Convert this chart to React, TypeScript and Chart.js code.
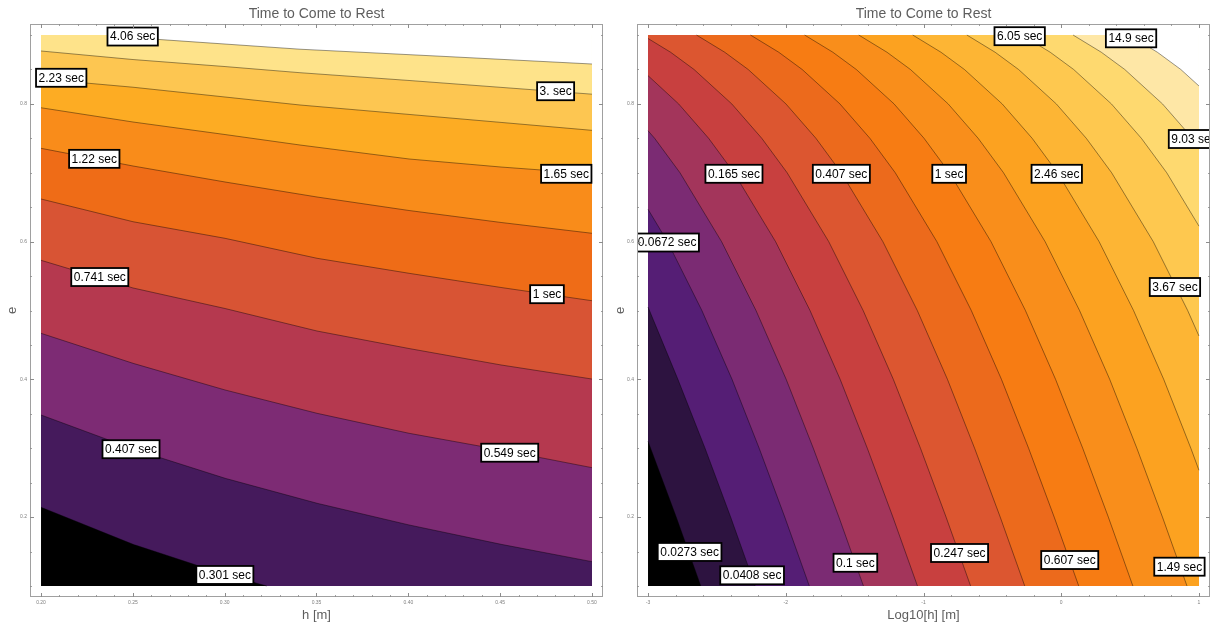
import React, { useEffect, useRef } from 'react';
import { Chart, registerables } from 'chart.js';

Chart.register(...registerables);

const FONT = '"Liberation Sans", Arial, Helvetica, sans-serif';

type Pt = [number, number];

// ================= LEFT CHART (h [m] vs e) =================
const L0301: Pt[] = [[0.2, 0.2143], [0.2501, 0.1605], [0.3002, 0.1167], [0.3229, 0.1]];
const L0407: Pt[] = [[0.2, 0.3483], [0.2501, 0.2989], [0.3002, 0.2564], [0.3503, 0.2201], [0.4004, 0.1886], [0.4505, 0.1605], [0.5, 0.1353]];
const L0549: Pt[] = [[0.2, 0.4669], [0.2501, 0.4233], [0.3002, 0.3846], [0.3503, 0.3507], [0.4004, 0.3217], [0.4505, 0.2975], [0.5, 0.2718]];
const L0741: Pt[] = [[0.2, 0.5729], [0.2501, 0.5327], [0.3002, 0.5029], [0.3503, 0.4702], [0.4004, 0.4448], [0.4505, 0.4209], [0.5, 0.4005]];
const L1: Pt[] = [[0.2, 0.6619], [0.2501, 0.6289], [0.3002, 0.6048], [0.3503, 0.5758], [0.4004, 0.554], [0.4505, 0.5334], [0.5, 0.5142]];
const L122: Pt[] = [[0.2, 0.7355], [0.2289, 0.7207], [0.2501, 0.7098], [0.3002, 0.6866], [0.3503, 0.6648], [0.4004, 0.6452], [0.4505, 0.6278], [0.5, 0.6121]];
const L165: Pt[] = [[0.2, 0.7944], [0.2501, 0.7737], [0.3002, 0.7555], [0.341, 0.7403], [0.4004, 0.72], [0.4505, 0.7083], [0.5, 0.6986]];
const L223: Pt[] = [[0.2, 0.8361], [0.2501, 0.8242], [0.3002, 0.81], [0.341, 0.7984], [0.4004, 0.7847], [0.4505, 0.7731], [0.5, 0.7616]];
const L3: Pt[] = [[0.2, 0.8768], [0.2501, 0.8644], [0.3002, 0.8542], [0.341, 0.8453], [0.4004, 0.834], [0.5, 0.8141]];
const L406: Pt[] = [[0.2403, 0.9], [0.2632, 0.8937], [0.341, 0.8794], [0.4205, 0.8688], [0.5, 0.8579]];

const LEFT_LINES: Pt[][] = [L0301, L0407, L0549, L0741, L1, L122, L165, L223, L3, L406];
const LEFT_COLORS = ['#000000', '#451a5c', '#7d2b74', '#b5394f', '#d85434', '#ef6c17', '#f98c1a', '#fdac23', '#fdc651', '#fee38a', '#ffffff'];
const LEFT_LABELS: [string, number, number][] = [
  ['4.06 sec', 0.2499, 0.8978], ['2.23 sec', 0.211, 0.8379], ['3. sec', 0.4802, 0.8184],
  ['1.22 sec', 0.229, 0.7202], ['1.65 sec', 0.486, 0.6985], ['0.741 sec', 0.232, 0.5486],
  ['1 sec', 0.4755, 0.5237], ['0.407 sec', 0.249, 0.2986], ['0.549 sec', 0.4552, 0.2935],
  ['0.301 sec', 0.3001, 0.116],
];
const LEFT_X_TICKS = [0.2, 0.25, 0.3, 0.35, 0.4, 0.45, 0.5];
const LEFT_X_TICK_LABELS = ['0.20', '0.25', '0.30', '0.35', '0.40', '0.45', '0.50'];
const E_TICKS = [0.2, 0.4, 0.6, 0.8];
const E_TICK_LABELS = ['0.2', '0.4', '0.6', '0.8'];

// ================= RIGHT CHART (Log10[h] vs e) =================
const R0273: Pt[] = [[-3, 0.31], [-2.795, 0.2], [-2.617, 0.1]];
const R0408: Pt[] = [[-3, 0.505], [-2.783, 0.4], [-2.586, 0.3], [-2.4, 0.2], [-2.222, 0.1]];
const R0672: Pt[] = [[-3, 0.647], [-2.859, 0.6], [-2.609, 0.5], [-2.39, 0.4], [-2.193, 0.3], [-2.007, 0.2], [-1.829, 0.1]];
const R01: Pt[] = [[-3, 0.761], [-2.952, 0.75], [-2.768, 0.7], [-2.466, 0.6], [-2.216, 0.5], [-1.997, 0.4], [-1.8, 0.3], [-1.614, 0.2], [-1.436, 0.1]];
const R0165: Pt[] = [[-3, 0.841], [-2.778, 0.8], [-2.56, 0.75], [-2.376, 0.7], [-2.074, 0.6], [-1.824, 0.5], [-1.605, 0.4], [-1.408, 0.3], [-1.222, 0.2], [-1.044, 0.1]];
const R0247: Pt[] = [[-3, 0.895], [-2.836, 0.875], [-2.666, 0.85], [-2.392, 0.8], [-2.174, 0.75], [-1.99, 0.7], [-1.688, 0.6], [-1.438, 0.5], [-1.219, 0.4], [-1.022, 0.3], [-0.836, 0.2], [-0.658, 0.1]];
const R0407: Pt[] = [[-2.648, 0.9], [-2.443, 0.875], [-2.273, 0.85], [-1.999, 0.8], [-1.781, 0.75], [-1.597, 0.7], [-1.295, 0.6], [-1.045, 0.5], [-0.826, 0.4], [-0.629, 0.3], [-0.443, 0.2], [-0.265, 0.1]];
const R0607: Pt[] = [[-2.256, 0.9], [-2.051, 0.875], [-1.881, 0.85], [-1.607, 0.8], [-1.389, 0.75], [-1.205, 0.7], [-0.903, 0.6], [-0.653, 0.5], [-0.434, 0.4], [-0.237, 0.3], [-0.051, 0.2], [0.127, 0.1]];
const R1: Pt[] = [[-1.863, 0.9], [-1.658, 0.875], [-1.488, 0.85], [-1.214, 0.8], [-0.996, 0.75], [-0.812, 0.7], [-0.51, 0.6], [-0.26, 0.5], [-0.041, 0.4], [0.156, 0.3], [0.342, 0.2], [0.52, 0.1]];
const R149: Pt[] = [[-1.47, 0.9], [-1.265, 0.875], [-1.095, 0.85], [-0.821, 0.8], [-0.603, 0.75], [-0.419, 0.7], [-0.117, 0.6], [0.133, 0.5], [0.352, 0.4], [0.549, 0.3], [0.735, 0.2], [0.913, 0.1]];
const R246: Pt[] = [[-1.078, 0.9], [-0.873, 0.875], [-0.703, 0.85], [-0.429, 0.8], [-0.211, 0.75], [-0.027, 0.7], [0.275, 0.6], [0.525, 0.5], [0.744, 0.4], [0.941, 0.3], [1, 0.268]];
const R367: Pt[] = [[-0.685, 0.9], [-0.48, 0.875], [-0.31, 0.85], [-0.036, 0.8], [0.182, 0.75], [0.366, 0.7], [0.668, 0.6], [0.918, 0.5], [1, 0.463]];
const R605: Pt[] = [[-0.285, 0.9], [-0.08, 0.875], [0.09, 0.85], [0.364, 0.8], [0.582, 0.75], [0.766, 0.7], [1, 0.6225]];
const R903: Pt[] = [[0.086, 0.9], [0.291, 0.875], [0.461, 0.85], [0.735, 0.8], [0.953, 0.75], [1, 0.737]];
const R149H: Pt[] = [[0.493, 0.9], [0.698, 0.875], [0.868, 0.85], [1, 0.826]];

const RIGHT_LINES: Pt[][] = [R0273, R0408, R0672, R01, R0165, R0247, R0407, R0607, R1, R149, R246, R367, R605, R903, R149H];
const RIGHT_COLORS = ['#000000', '#2d1340', '#551e75', '#7b2b73', '#a3355b', '#c8403f', '#dc5630', '#ec6a1c', '#f77c13', '#f98e1b', '#fca220', '#fdb534', '#fec84f', '#fed96f', '#fee7a6', '#ffffff'];
const RIGHT_LABELS: [string, number, number][] = [
  ['6.05 sec', -0.3018, 0.8983], ['14.9 sec', 0.5069, 0.8952], ['9.03 sec', 0.9636, 0.749],
  ['0.165 sec', -2.376, 0.6985], ['0.407 sec', -1.5964, 0.6985], ['1 sec', -0.8138, 0.6985],
  ['2.46 sec', -0.0327, 0.6985], ['0.0672 sec', -2.8618, 0.5987], ['3.67 sec', 0.8255, 0.5341],
  ['0.0273 sec', -2.6982, 0.1494], ['0.0408 sec', -2.2444, 0.1155], ['0.1 sec', -1.4945, 0.1337],
  ['0.247 sec', -0.7382, 0.1479], ['0.607 sec', 0.0618, 0.1377], ['1.49 sec', 0.8582, 0.128],
];
const RIGHT_X_TICKS = [-3, -2, -1, 0, 1];
const RIGHT_X_TICK_LABELS = ['-3', '-2', '-1', '0', '1'];

function steps(a: number, b: number, s: number): number[] {
  const out: number[] = [];
  const n = Math.round((b - a) / s);
  for (let i = 0; i <= n; i++) out.push(+(a + i * s).toFixed(6));
  return out;
}

interface Spec {
  lines: Pt[][];
  colors: string[];
  labels: [string, number, number][];
  dataX: [number, number];
  dataY: [number, number];
  viewX: [number, number];
  viewY: [number, number];
  xTicks: number[];
  xTickLabels: string[];
  xMinor: number[];
  yMinor: number[];
  xTitle: string;
  yAxisWidth: number;
  padRight: number;
  yTitleX: number;
}

function makeDecor(spec: Spec) {
  return {
    id: 'decor',
    afterDatasetsDraw(chart: any) {
      const { ctx, chartArea: a } = chart;
      const xs = chart.scales.x;
      const ys = chart.scales.y;
      ctx.save();
      ctx.beginPath();
      ctx.rect(a.left, a.top, a.right - a.left, a.bottom - a.top);
      ctx.clip();
      ctx.font = `12px ${FONT}`;
      for (const [text, x, y] of spec.labels) {
        const px = xs.getPixelForValue(x);
        const py = ys.getPixelForValue(y);
        const w = ctx.measureText(text).width + 5;
        const h = 18;
        ctx.fillStyle = '#ffffff';
        ctx.fillRect(px - w / 2, py - h / 2, w, h);
        ctx.lineWidth = 1.8;
        ctx.strokeStyle = '#000000';
        ctx.strokeRect(px - w / 2, py - h / 2, w, h);
        ctx.fillStyle = '#000000';
        ctx.textAlign = 'center';
        ctx.textBaseline = 'middle';
        ctx.fillText(text, px, py + 0.5);
      }
      ctx.restore();
    },
    afterDraw(chart: any) {
      const { ctx, chartArea: a } = chart;
      const xs = chart.scales.x;
      const ys = chart.scales.y;
      ctx.save();
      ctx.strokeStyle = '#a0a0a0';
      ctx.lineWidth = 1;
      ctx.strokeRect(a.left + 0.5, a.top + 0.5, a.right - a.left - 1, a.bottom - a.top - 1);
      const tick = (v: number, len: number, horiz: boolean) => {
        ctx.beginPath();
        if (horiz) {
          const p = Math.round(xs.getPixelForValue(v)) + 0.5;
          ctx.moveTo(p, a.bottom); ctx.lineTo(p, a.bottom - len);
          ctx.moveTo(p, a.top); ctx.lineTo(p, a.top + len);
        } else {
          const p = Math.round(ys.getPixelForValue(v)) + 0.5;
          ctx.moveTo(a.left, p); ctx.lineTo(a.left + len, p);
          ctx.moveTo(a.right, p); ctx.lineTo(a.right - len, p);
        }
        ctx.stroke();
      };
      ctx.strokeStyle = '#8c8c8c';
      ctx.lineWidth = 0.8;
      spec.xMinor.forEach((v) => tick(v, 2, true));
      spec.yMinor.forEach((v) => tick(v, 2, false));
      ctx.lineWidth = 1;
      spec.xTicks.forEach((v) => tick(v, 4, true));
      E_TICKS.forEach((v) => tick(v, 4, false));

      ctx.fillStyle = '#5e5e5e';
      ctx.textAlign = 'center';
      ctx.textBaseline = 'middle';
      const cx = (a.left + a.right) / 2;
      const cy = (a.top + a.bottom) / 2;
      ctx.font = `14px ${FONT}`;
      ctx.fillText('Time to Come to Rest', cx, 14);
      ctx.font = `13px ${FONT}`;
      ctx.fillText(spec.xTitle, cx, 615);
      ctx.save();
      ctx.translate(spec.yTitleX, cy);
      ctx.rotate(-Math.PI / 2);
      ctx.fillText('e', 0, 0);
      ctx.restore();
      ctx.restore();
    },
  };
}

function makeConfig(spec: Spec): any {
  const [xLo, xHi] = spec.dataX;
  const [yLo, yHi] = spec.dataY;
  const toXY = (pts: Pt[]) => pts.map(([x, y]) => ({ x, y }));
  const datasets: any[] = [];
  datasets.push({
    data: [{ x: xLo, y: yLo }, { x: xHi, y: yLo }],
    borderColor: 'rgba(0,0,0,0)',
    borderWidth: 1,
    backgroundColor: spec.colors[0],
    fill: { value: yHi },
    pointRadius: 0,
    order: 1000,
  });
  spec.lines.forEach((pts, i) => {
    const region = toXY(pts);
    const last = pts[pts.length - 1];
    if (last[1] <= yLo + 1e-9 && last[0] < xHi) region.push({ x: xHi, y: yLo });
    datasets.push({
      data: region,
      borderColor: 'rgba(0,0,0,0)',
      borderWidth: 1,
      backgroundColor: spec.colors[i + 1],
      fill: { value: yHi },
      pointRadius: 0,
      order: 999 - i,
    });
  });
  spec.lines.forEach((pts) => {
    datasets.push({
      data: toXY(pts),
      borderColor: 'rgba(0,0,0,0.45)',
      borderWidth: 0.9,
      fill: false,
      pointRadius: 0,
      order: 0,
    });
  });

  return {
    type: 'line',
    data: { datasets },
    options: {
      animation: false,
      responsive: false,
      maintainAspectRatio: false,
      devicePixelRatio: 1,
      events: [],
      layout: { padding: { top: 24, right: spec.padRight, left: 0, bottom: 0 } },
      plugins: { legend: { display: false }, tooltip: { enabled: false }, title: { display: false } },
      elements: { line: { tension: 0 } },
      scales: {
        x: {
          type: 'linear',
          min: spec.viewX[0],
          max: spec.viewX[1],
          grid: { display: false, drawTicks: false, tickLength: 0 },
          border: { display: false },
          afterBuildTicks: (s: any) => { s.ticks = spec.xTicks.map((v) => ({ value: v })); },
          afterFit: (s: any) => { s.height = 29; },
          ticks: {
            autoSkip: false, maxRotation: 0, minRotation: 0, padding: 3,
            font: { size: 5, family: FONT }, color: '#7f7f7f',
            callback: (_v: any, i: number) => spec.xTickLabels[i],
          },
        },
        y: {
          type: 'linear',
          min: spec.viewY[0],
          max: spec.viewY[1],
          grid: { display: false, drawTicks: false, tickLength: 0 },
          border: { display: false },
          afterBuildTicks: (s: any) => { s.ticks = E_TICKS.map((v) => ({ value: v })); },
          afterFit: (s: any) => { s.width = spec.yAxisWidth; },
          ticks: {
            autoSkip: false, padding: 3,
            font: { size: 5, family: FONT }, color: '#7f7f7f',
            callback: (_v: any, i: number) => E_TICK_LABELS[i],
          },
        },
      },
    },
    plugins: [makeDecor(spec)],
  };
}

const LEFT_SPEC: Spec = {
  lines: LEFT_LINES,
  colors: LEFT_COLORS,
  labels: LEFT_LABELS,
  dataX: [0.2, 0.5],
  dataY: [0.1, 0.9],
  viewX: [0.194, 0.506],
  viewY: [0.084, 0.916],
  xTicks: LEFT_X_TICKS,
  xTickLabels: LEFT_X_TICK_LABELS,
  xMinor: steps(0.2, 0.5, 0.01),
  yMinor: steps(0.1, 0.9, 0.05),
  xTitle: 'h [m]',
  yAxisWidth: 30,
  padRight: 7,
  yTitleX: 12,
};

const RIGHT_SPEC: Spec = {
  lines: RIGHT_LINES,
  colors: RIGHT_COLORS,
  labels: RIGHT_LABELS,
  dataX: [-3, 1],
  dataY: [0.1, 0.9],
  viewX: [-3.08, 1.08],
  viewY: [0.084, 0.916],
  xTicks: RIGHT_X_TICKS,
  xTickLabels: RIGHT_X_TICK_LABELS,
  xMinor: steps(-3, 1, 0.2),
  yMinor: steps(0.1, 0.9, 0.05),
  xTitle: 'Log10[h] [m]',
  yAxisWidth: 27,
  padRight: 11,
  yTitleX: 10,
};

function ContourChart({ spec, left, width }: { spec: Spec; left: number; width: number }) {
  const ref = useRef<HTMLCanvasElement | null>(null);
  useEffect(() => {
    if (!ref.current) return;
    const chart = new Chart(ref.current, makeConfig(spec));
    return () => chart.destroy();
  }, [spec]);
  return (
    <canvas
      ref={ref}
      width={width}
      height={626}
      style={{ position: 'absolute', left, top: 0, width, height: 626 }}
    />
  );
}

export default function App() {
  return (
    <div style={{ position: 'fixed', left: 0, top: 0, width: 1221, height: 626, background: '#ffffff', overflow: 'hidden' }}>
      <ContourChart spec={LEFT_SPEC} left={0} width={610} />
      <ContourChart spec={RIGHT_SPEC} left={610} width={611} />
    </div>
  );
}
